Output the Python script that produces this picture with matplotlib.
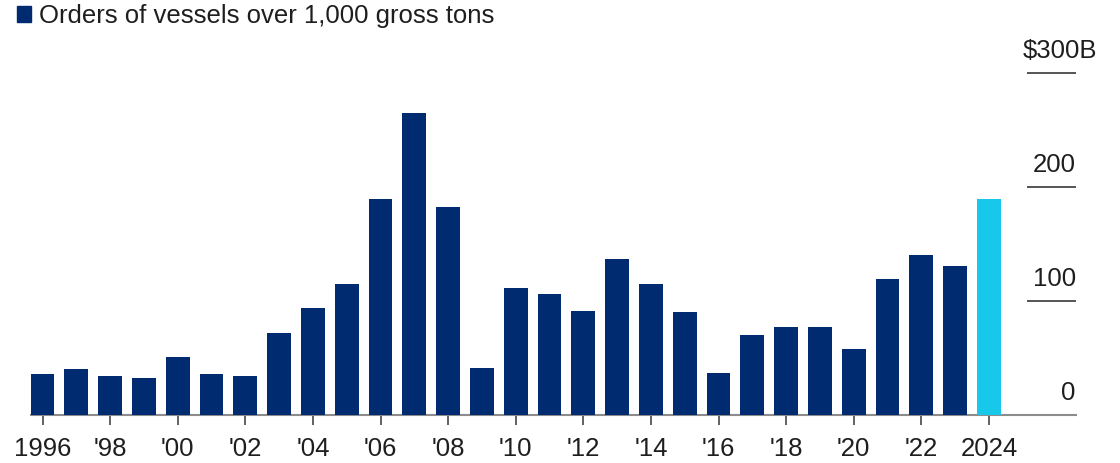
import matplotlib
matplotlib.use("Agg")
import matplotlib.pyplot as plt
from matplotlib.patches import Patch

plt.rcParams["font.family"] = ["Liberation Sans", "DejaVu Sans"]

# Annual orders of vessels over 1,000 gross tons, in billions of dollars
years = list(range(1996, 2025))
orders = [35.7, 40.1, 34.4, 32.4, 51.1, 35.8, 34.2, 72.1, 94.0, 114.5,
          189.6, 264.4, 182.3, 41.2, 111.0, 105.8, 91.4, 136.7, 115.1, 90.0,
          36.8, 70.1, 77.4, 77.4, 57.6, 119.2, 140.2, 130.8, 189.0]
tick_years = years[::2]
tick_labels = ["1996", "'98", "'00", "'02", "'04", "'06", "'08", "'10", "'12",
               "'14", "'16", "'18", "'20", "'22", "2024"]
y_levels = [0, 100, 200, 300]
y_labels = ["0", "100", "200", "$300B"]
legend_label = "Orders of vessels over 1,000 gross tons"

NAVY = "#002b70"
CYAN = "#17c8ea"
TEXT = "#1e1e1e"
FS = 18.5

W, H, DPI = 1120, 463, 100
fig = plt.figure(figsize=(W / DPI, H / DPI), dpi=DPI)

# axes placed so the bottom spine is the zero baseline
left_px, right_px, base_px = 30.7, 1075.7, 415.0
ax = fig.add_axes([left_px / W, (H - base_px) / H,
                   (right_px - left_px) / W, base_px / H])

step = 33.8           # pixels per year
px_per_unit = 1.141   # pixels per $1B
x0 = years[0] + (left_px - 42.5) / step
x1 = years[0] + (right_px - 42.5) / step
ax.set_xlim(x0, x1)
ax.set_ylim(0, base_px / px_per_unit)

colors = [NAVY] * (len(years) - 1) + [CYAN]
ax.bar(years, orders, width=0.71, color=colors, zorder=3)

# spines / ticks
for s in ("top", "right", "left"):
    ax.spines[s].set_visible(False)
ax.spines["bottom"].set_color("#8c8c8c")
ax.spines["bottom"].set_linewidth(1.5)
ax.set_yticks([])
ax.set_xticks(tick_years)
ax.set_xticklabels(tick_labels)
ax.tick_params(axis="x", length=7.2, width=1.3, color="#555555",
               labelsize=FS, labelcolor=TEXT, pad=8.5)

# short right-hand gridlines with labels above them
g0 = years[0] + (1026.5 - 42.5) / step
ax.hlines([v for v in y_levels if v > 0], g0, x1, color="#555555",
          linewidth=1.4, clip_on=False)
for v, lab in zip(y_levels, y_labels):
    dx = 15.5 if lab.startswith("$") else 0.0
    ax.annotate(lab, xy=(x1, v), xytext=(dx, 10.8), textcoords="offset points",
                ha="right", va="baseline", fontsize=FS, color=TEXT,
                annotation_clip=False)

fig.legend(handles=[Patch(color=NAVY, label=legend_label)],
           loc="upper left", bbox_to_anchor=(17 / W, 1 - 4 / H),
           frameon=False, fontsize=FS, handlelength=0.55, handleheight=0.55,
           handletextpad=0.3, borderpad=0, borderaxespad=0,
           labelcolor=TEXT)

fig.savefig("out.png", dpi=DPI)
